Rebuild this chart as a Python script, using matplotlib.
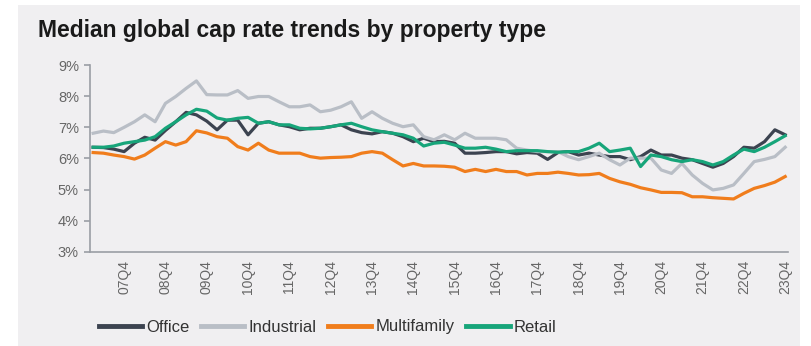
import numpy as np
import matplotlib
matplotlib.use('Agg')
import matplotlib.pyplot as plt
import matplotlib.patches as patches

# Quarterly series, 2007Q1 - 2023Q4 (cap rate, %)
quarters = [f"{y:02d}Q{q}" for y in range(7, 24) for q in range(1, 5)]

office = [6.36, 6.35, 6.30, 6.22, 6.49, 6.68, 6.59, 6.90, 7.18, 7.48,
          7.40, 7.20, 6.92, 7.23, 7.23, 6.76, 7.13, 7.18, 7.08, 7.02,
          6.92, 6.97, 6.97, 7.02, 7.08, 6.92, 6.83, 6.79, 6.86, 6.81,
          6.70, 6.54, 6.65, 6.54, 6.55, 6.49, 6.17, 6.17, 6.19, 6.22,
          6.22, 6.15, 6.19, 6.17, 5.97, 6.19, 6.22, 6.11, 6.17, 6.11,
          6.06, 6.06, 5.96, 6.06, 6.27, 6.11, 6.11, 6.01, 5.96, 5.84,
          5.72, 5.84, 6.06, 6.36, 6.33, 6.54, 6.92, 6.76]

industrial = [6.81, 6.88, 6.83, 7.00, 7.18, 7.40, 7.18, 7.77, 7.99, 8.25,
              8.49, 8.05, 8.04, 8.04, 8.18, 7.93, 7.99, 7.99, 7.82, 7.66,
              7.66, 7.72, 7.50, 7.55, 7.66, 7.82, 7.29, 7.50, 7.29, 7.13,
              7.02, 7.08, 6.70, 6.60, 6.76, 6.60, 6.81, 6.65, 6.65, 6.65,
              6.60, 6.33, 6.27, 6.22, 6.22, 6.22, 6.06, 5.96, 6.06, 6.17,
              5.96, 5.79, 6.01, 6.01, 6.01, 5.63, 5.52, 5.84, 5.47, 5.20,
              4.99, 5.04, 5.15, 5.52, 5.90, 5.97, 6.06, 6.36]

multifamily = [6.19, 6.17, 6.11, 6.06, 5.98, 6.11, 6.33, 6.54, 6.43, 6.54,
               6.89, 6.82, 6.70, 6.65, 6.38, 6.27, 6.49, 6.27, 6.17, 6.17,
               6.17, 6.06, 6.01, 6.03, 6.04, 6.06, 6.17, 6.22, 6.17, 5.96,
               5.76, 5.84, 5.76, 5.76, 5.75, 5.72, 5.58, 5.65, 5.58, 5.65,
               5.58, 5.58, 5.47, 5.52, 5.52, 5.56, 5.52, 5.47, 5.48, 5.52,
               5.36, 5.25, 5.17, 5.06, 4.99, 4.91, 4.91, 4.90, 4.77, 4.77,
               4.74, 4.72, 4.70, 4.88, 5.04, 5.13, 5.24, 5.42]

retail = [6.36, 6.36, 6.40, 6.49, 6.54, 6.59, 6.70, 6.97, 7.18, 7.40,
          7.58, 7.52, 7.30, 7.23, 7.29, 7.32, 7.13, 7.18, 7.08, 7.08,
          6.97, 6.95, 6.97, 7.02, 7.08, 7.13, 7.02, 6.92, 6.86, 6.81,
          6.76, 6.65, 6.40, 6.49, 6.52, 6.43, 6.33, 6.33, 6.36, 6.30,
          6.22, 6.25, 6.25, 6.25, 6.22, 6.20, 6.22, 6.22, 6.33, 6.49,
          6.22, 6.27, 6.33, 5.74, 6.11, 6.06, 5.96, 5.90, 5.96, 5.90,
          5.79, 5.90, 6.11, 6.30, 6.22, 6.36, 6.54, 6.73]

series = [('Office', office, '#3c4350'),
          ('Industrial', industrial, '#b9bec6'),
          ('Multifamily', multifamily, '#f07d1c'),
          ('Retail', retail, '#17a57a')]

plt.rcParams['font.family'] = ['Liberation Sans', 'DejaVu Sans']

fig = plt.figure(figsize=(8.11, 3.46), dpi=100)
fig.patch.set_facecolor('white')

# light grey panel behind everything
fig.patches.append(patches.Rectangle((18 / 811, 0), 782 / 811, 341 / 346,
                                     transform=fig.transFigure,
                                     facecolor='#f0eff1', edgecolor='none',
                                     zorder=-10))

ax = fig.add_axes([0.111, 0.272, 0.861, 0.540])
ax.set_facecolor('none')

x = np.arange(len(quarters))
for name, vals, col in series:
    ax.plot(x, vals, color=col, lw=2.3, label=name, solid_joinstyle='round')

ax.set_ylim(3, 9)
ax.set_xlim(-0.3, len(quarters) - 0.7)
ax.set_yticks(range(3, 10))
ax.set_yticklabels([f"{v}%" for v in range(3, 10)])

tick_idx = [i for i, q in enumerate(quarters) if q.endswith('Q4')]
ax.set_xticks(tick_idx)
ax.set_xticklabels([quarters[i] for i in tick_idx], rotation=90)

for s in ['top', 'right']:
    ax.spines[s].set_visible(False)
for s in ['left', 'bottom']:
    ax.spines[s].set_color('#9a9ea5')
    ax.spines[s].set_linewidth(1.2)
ax.tick_params(axis='y', colors='#9a9ea5', labelcolor='#666666',
               labelsize=10.5, length=4, width=1.2, pad=4)
ax.tick_params(axis='x', length=0, labelcolor='#666666', labelsize=10, pad=6)

fig.text(38 / 811, 1 - 30 / 346, 'Median global cap rate trends by property type',
         fontsize=16.5, fontweight='bold', color='#1a1a1a', va='center', ha='left')

leg = fig.legend(loc='center left', bbox_to_anchor=(0.103, 1 - 327 / 346), ncol=4,
                 frameon=False, fontsize=12, handlelength=2.6, handletextpad=0.25,
                 columnspacing=0.7, labelcolor='#333333')
for h in leg.get_lines():
    h.set_linewidth(3.5)

plt.savefig('out.png', dpi=100)
